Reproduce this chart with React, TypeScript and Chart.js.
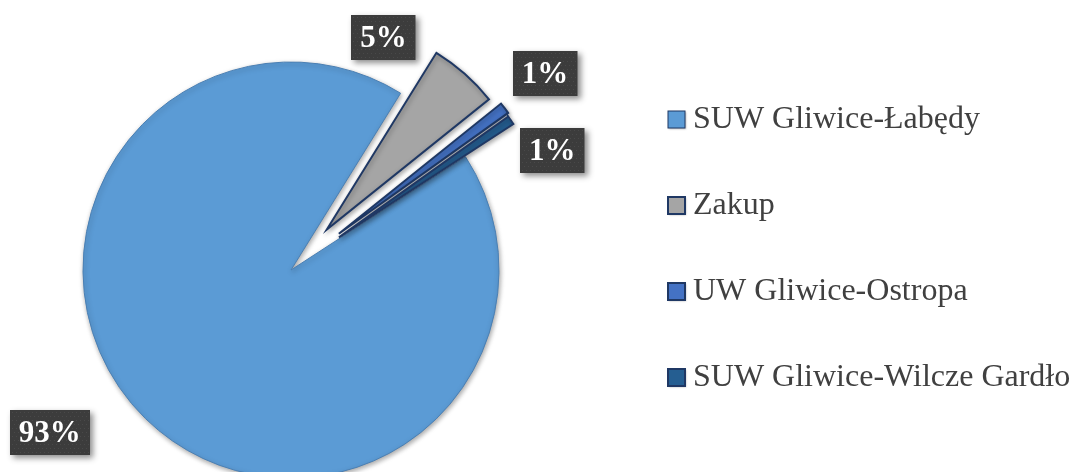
import React, { useEffect, useRef } from "react";
import { Chart, registerables } from "chart.js";

Chart.register(...registerables);

// ---- data ----
const categories = ["SUW Gliwice-Łabędy", "Zakup", "UW Gliwice-Ostropa", "SUW Gliwice-Wilcze Gardło"];
const shares = [93.0, 5.4, 0.9, 0.7];

// ---- styles ----
const sliceColors = ["#5b9bd5", "#a5a5a5", "#4472c4", "#255e91"];
const sliceBorders = ["#4a7fb3", "#1f3864", "#1f3864", "#1f3864"];
const sliceBorderWidths = [1, 2, 2, 2];
// explosion distance (px) of each slice away from the pie centre, along its mid-angle
const sliceExplode = [0, 54, 60, 58];
// label box placement (polar, relative to pie centre: degrees clockwise from 12 o'clock, px)
const labelAngles = [236, 21.7, 52.3, 65.5];
const labelDistances = [291, 250, 321, 287];

const SERIF = '"Liberation Serif", "Times New Roman", serif';

const explodePlugin = {
  id: "explodeSlices",
  beforeDatasetsDraw(chart: any) {
    const meta = chart.getDatasetMeta(0);
    const cx = (chart.chartArea.left + chart.chartArea.right) / 2;
    const cy = (chart.chartArea.top + chart.chartArea.bottom) / 2;
    meta.data.forEach((arc: any, i: number) => {
      const half = (arc.startAngle + arc.endAngle) / 2;
      const d = sliceExplode[i] || 0;
      arc.x = cx + Math.cos(half) * d;
      arc.y = cy + Math.sin(half) * d;
    });
    const ctx = chart.ctx;
    ctx.save();
    ctx.shadowColor = "rgba(0,0,0,0.35)";
    ctx.shadowBlur = 5;
    ctx.shadowOffsetX = 1;
    ctx.shadowOffsetY = 2;
  },
  afterDatasetsDraw(chart: any) {
    chart.ctx.restore();
  },
};

const labelPlugin = {
  id: "pctLabels",
  afterDatasetsDraw(chart: any) {
    const ctx: CanvasRenderingContext2D = chart.ctx;
    const meta = chart.getDatasetMeta(0);
    const values: number[] = chart.data.datasets[0].data;
    const total = values.reduce((a, b) => a + b, 0);
    const cx = (chart.chartArea.left + chart.chartArea.right) / 2;
    const cy = (chart.chartArea.top + chart.chartArea.bottom) / 2;
    ctx.save();
    ctx.font = `bold 31px ${SERIF}`;
    meta.data.forEach((_arc: any, i: number) => {
      const text = Math.round((values[i] / total) * 100) + "%";
      const a = (labelAngles[i] * Math.PI) / 180;
      const x = cx + labelDistances[i] * Math.sin(a);
      const y = cy - labelDistances[i] * Math.cos(a);
      const w = ctx.measureText(text).width + 18;
      const h = 45;
      const bx = Math.round(x - w / 2);
      const by = Math.round(y - h / 2);
      ctx.save();
      ctx.shadowColor = "rgba(0,0,0,0.45)";
      ctx.shadowBlur = 6;
      ctx.shadowOffsetX = 3;
      ctx.shadowOffsetY = 3;
      ctx.fillStyle = "#3c3c3c";
      ctx.fillRect(bx, by, w, h);
      ctx.restore();
      // subtle dotted texture
      ctx.fillStyle = "rgba(255,255,255,0.07)";
      for (let yy = by + 2; yy < by + h - 1; yy += 4) {
        for (let xx = bx + 2 + ((yy - by) % 8 === 2 ? 0 : 2); xx < bx + w - 1; xx += 4) {
          ctx.fillRect(xx, yy, 1, 1);
        }
      }
      ctx.fillStyle = "#ffffff";
      ctx.textAlign = "center";
      ctx.textBaseline = "middle";
      ctx.fillText(text, x, y + 1);
    });
    ctx.restore();
  },
};

const legendPlugin = {
  id: "sideLegend",
  afterDraw(chart: any) {
    const ctx: CanvasRenderingContext2D = chart.ctx;
    const labels: string[] = chart.data.labels;
    const ds = chart.data.datasets[0];
    const x0 = 668;
    const y0 = 119;
    const step = 86;
    ctx.save();
    ctx.font = `32px ${SERIF}`;
    ctx.textBaseline = "middle";
    ctx.textAlign = "left";
    labels.forEach((lab, i) => {
      const y = y0 + i * step;
      ctx.save();
      ctx.shadowColor = "rgba(0,0,0,0.3)";
      ctx.shadowBlur = 2;
      ctx.shadowOffsetX = 1;
      ctx.shadowOffsetY = 1;
      ctx.fillStyle = ds.backgroundColor[i];
      ctx.fillRect(x0, y - 8, 17, 17);
      ctx.restore();
      ctx.strokeStyle = "#1f3864";
      ctx.lineWidth = i === 0 ? 1 : 2;
      ctx.strokeRect(x0, y - 8, 17, 17);
      ctx.fillStyle = "#404040";
      ctx.fillText(lab, x0 + 25, y + 1);
    });
    ctx.restore();
  },
};

export default function App() {
  const canvasRef = useRef<HTMLCanvasElement | null>(null);

  useEffect(() => {
    if (!canvasRef.current) return;
    const chart = new Chart(canvasRef.current, {
      type: "pie",
      data: {
        labels: categories,
        datasets: [
          {
            data: shares,
            backgroundColor: sliceColors,
            borderColor: sliceBorders,
            borderWidth: sliceBorderWidths,
            borderJoinStyle: "miter",
          } as any,
        ],
      },
      options: {
        responsive: false,
        animation: false,
        rotation: 57,
        radius: 208,
        layout: { padding: { left: 0, right: 491, top: 68, bottom: 0 } },
        plugins: {
          legend: { display: false },
          tooltip: { enabled: false },
        },
      } as any,
      plugins: [explodePlugin, labelPlugin, legendPlugin],
    });
    return () => chart.destroy();
  }, []);

  return (
    <div style={{ position: "absolute", left: 0, top: 0, width: 1073, height: 472, background: "#ffffff" }}>
      <canvas ref={canvasRef} width={1073} height={472} style={{ display: "block" }} />
    </div>
  );
}
